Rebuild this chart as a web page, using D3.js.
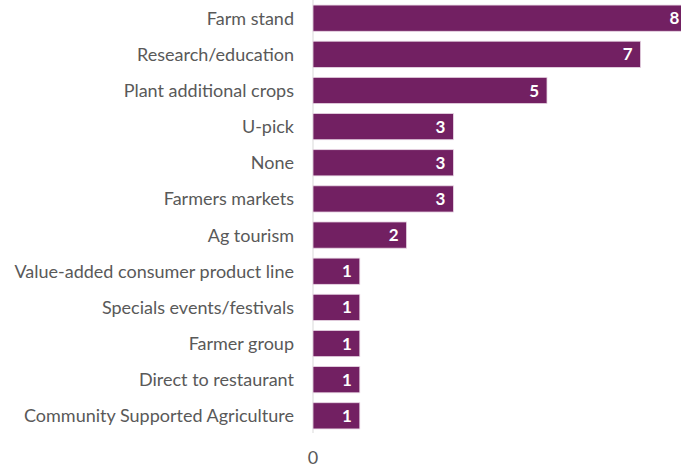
<!DOCTYPE html>
<html>
<head>
<meta charset="utf-8">
<script src="https://cdn.jsdelivr.net/npm/d3@7"></script>
<style>
  body { margin: 0; background: #fff; }
  svg { display: block; overflow: hidden; }
</style>
</head>
<body>
<div id="chart"></div>
<script>
// categories top to bottom, and their counts
var categories = ["Farm stand", "Research/education", "Plant additional crops", "U-pick", "None",
  "Farmers markets", "Ag tourism", "Value-added consumer product line", "Specials events/festivals",
  "Farmer group", "Direct to restaurant", "Community Supported Agriculture"]
var counts = [8, 7, 5, 3, 3, 3, 2, 1, 1, 1, 1, 1]
var xTicks = [0]

var width = 681, height = 468
var data = categories.map((c, i) => ({name: c, value: counts[i]}))

var svg = d3.select("#chart").append("svg")
  .attr("width", width)
  .attr("height", height)

var x = d3.scaleLinear()
  .domain([0, 8])
  .range([313, 687.4])

var y = d3.scaleBand()
  .domain(categories)
  .range([0, 434])
  .paddingInner(0.275)
  .paddingOuter(0.14)

// vertical baseline
svg.append("line")
  .attr("x1", x(0)).attr("x2", x(0))
  .attr("y1", 0).attr("y2", 433)
  .attr("stroke", "#d9d9d9")
  .attr("stroke-width", 1)

// bars
svg.append("g")
  .selectAll("rect")
  .data(data)
  .join("rect")
    .attr("x", x(0))
    .attr("y", d => y(d.name))
    .attr("width", d => x(d.value) - x(0))
    .attr("height", y.bandwidth())
    .attr("fill", "#722062")
    .attr("stroke", "#e8d6e4")
    .attr("stroke-width", 0.8)

// value labels inside bar ends
svg.append("g")
  .selectAll("text")
  .data(data)
  .join("text")
    .text(d => d.value)
    .attr("x", d => x(d.value) - 8)
    .attr("y", d => y(d.name) + y.bandwidth() / 2)
    .attr("dy", ".36em")
    .attr("text-anchor", "end")
    .style("font-family", "Lato, 'Open Sans', sans-serif")
    .style("font-size", "17px")
    .style("font-weight", "bold")
    .style("fill", "#fff")

// category labels
svg.append("g")
  .selectAll("text")
  .data(data)
  .join("text")
    .text(d => d.name)
    .attr("x", 294)
    .attr("y", d => y(d.name) + y.bandwidth() / 2)
    .attr("dy", ".36em")
    .attr("text-anchor", "end")
    .style("font-family", "Lato, 'Open Sans', sans-serif")
    .style("font-size", "18px")
    .style("fill", "#595959")

// x tick label
svg.append("g")
  .selectAll("text")
  .data(xTicks)
  .join("text")
    .text(d => d)
    .attr("x", d => x(d))
    .attr("y", 458)
    .attr("dy", ".36em")
    .attr("text-anchor", "middle")
    .style("font-family", "Lato, 'Open Sans', sans-serif")
    .style("font-size", "18px")
    .style("fill", "#595959")
</script>
</body>
</html>
